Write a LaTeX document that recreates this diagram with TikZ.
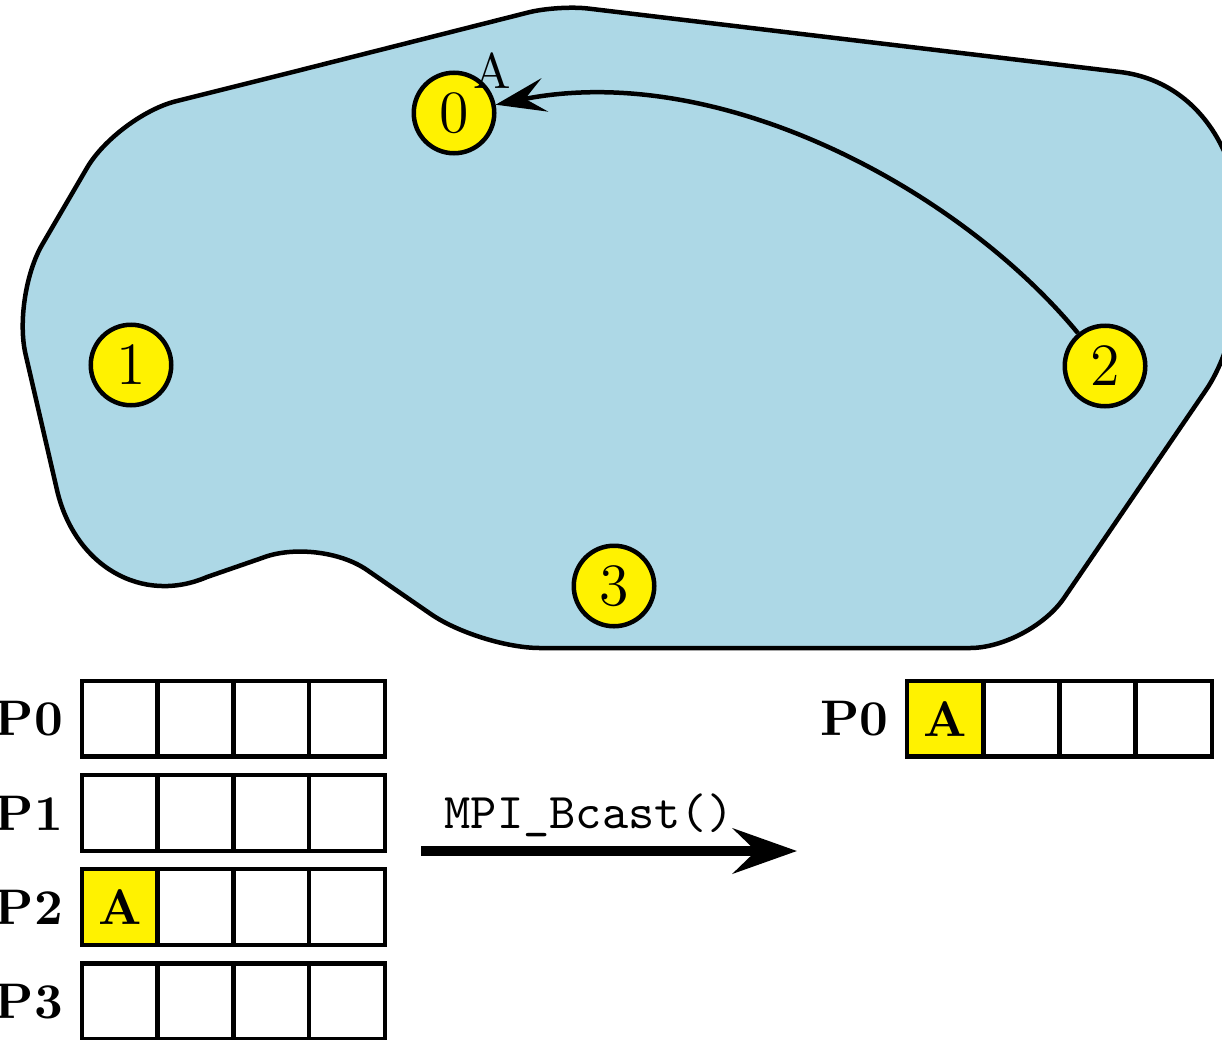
\documentclass[tikz,border=0pt]{standalone}
\usetikzlibrary{arrows.meta,calc}
\definecolor{regionblue}{RGB}{173,216,230}
\begin{document}
\begin{tikzpicture}[x=0.2pt,y=-0.2pt,
  proc/.style={circle,draw,fill=yellow,line width=0.9pt,minimum size=16.1pt,inner sep=0pt,font=\large},
  cell/.style={draw,line width=0.9pt,minimum width=15.15pt,minimum height=15.15pt,inner sep=0pt,outer sep=0pt,font=\bfseries},
  full/.style={cell,fill=yellow},
  plabel/.style={font=\bfseries,anchor=east,inner sep=0pt},
]
\useasboundingbox (0,0) rectangle (1222,1039);

% the communicator region
\draw[line width=0.9pt,fill=regionblue]
  (300,70.2) -- (528.9,12.3)
  .. controls (544.9,8.3) and (571.4,6.6) .. (587.8,8.5)
  -- (1120,72)
  .. controls (1195,81) and (1245,150) .. (1242,250)
  .. controls (1240,320) and (1223,365) .. (1206,390)
  -- (1064,598)
  .. controls (1045.3,625.5) and (1003,648) .. (970,648)
  -- (540,648)
  .. controls (507,648) and (457.8,632.7) .. (430.6,613.9)
  -- (367,570)
  .. controls (340,551.3) and (292.8,545.9) .. (262,558)
  -- (207,577)
  .. controls (142,605) and (74.6,566) .. (57,490)
  -- (25.6,354.4)
  .. controls (18.1,322.3) and (25.7,272.7) .. (42.4,244.3)
  -- (87.1,167.7)
  .. controls (103.8,139.3) and (143.7,109.4) .. (175.7,101.3)
  -- cycle;

% processes
\node[proc] (n0) at (454,113) {0};
\node[proc] (n1) at (131,365) {1};
\node[proc] (n2) at (1105,366) {2};
\node[proc] (n3) at (614,586) {3};

\draw[line width=0.9pt,-{Stealth[length=10pt,width=6.8pt,inset=4pt]}]
  (n2) .. controls (960,190) and (720,60) .. (n0);
\node[inner sep=0pt] (msgA) at (492,71) {A};

% buffers before the call
\foreach \r/\y in {0/718.7,1/812.9,3/1001.3} {
  \foreach \c/\x in {0/119.8,1/195.5,2/271.3,3/347} {
    \node[cell] (L\r\c) at (\x,\y) {};
  }
}
\node[full] (L20) at (119.8,907.1) {A};
\foreach \c/\x in {1/195.5,2/271.3,3/347} {
  \node[cell] (L2\c) at (\x,907.1) {};
}
\foreach \r in {0,1,2,3} {
  \node[plabel] (PL\r) at ($(L\r0.west)+(-3.6pt,0)$) {P\r};
}

% call
\coordinate (bs) at (421,851);
\coordinate (be) at (797,851);
\draw[line width=2pt,-{Stealth[length=12.8pt,width=9pt,inset=4.6pt]}] (bs) -- (be);
\node[font=\ttfamily] (call) at (589,815) {MPI\_Bcast()};

% buffer after the call
\node[full] (R0) at (945.1,718.7) {A};
\foreach \c/\x in {1/1021.4,2/1097.6,3/1173.9} {
  \node[cell] (R\c) at (\x,718.7) {};
}
\node[plabel] (PR) at ($(R0.west)+(-3.6pt,0)$) {P0};
\end{tikzpicture}
\end{document}
